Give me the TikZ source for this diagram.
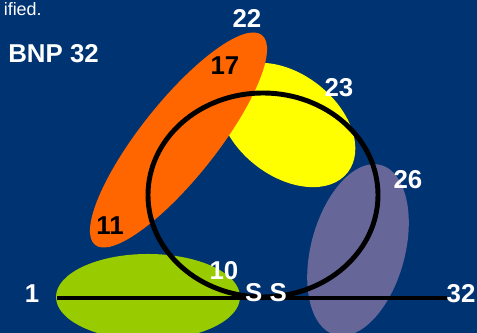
\documentclass[tikz,border=0pt]{standalone}
\usepackage{fontspec}
\setmainfont{Liberation Sans}
\definecolor{bgblue}{RGB}{0,51,114}
\definecolor{setorange}{RGB}{255,102,0}
\definecolor{setyellow}{RGB}{255,255,0}
\definecolor{setgreen}{RGB}{153,204,0}
\definecolor{setpurple}{RGB}{102,102,153}
\tikzset{
  num/.style={font=\fontsize{14.7}{17}\selectfont\bfseries, text=white, inner sep=0pt, anchor=base},
  darknum/.style={num, text=black},
  strand/.style={line width=2.8pt, black}
}
\begin{document}
\begin{tikzpicture}[x=0.02cm, y=0.02cm]
    % 1. Background and clipping window
    \useasboundingbox (0,0) rectangle (477,333);
    \clip (0,0) rectangle (477,333);
    \fill[bgblue] (0,0) rectangle (477,333);

    % 2. Coloured regions (ellipses)
    \fill[setyellow, rotate around={-38:(287,208)}] (287,208) ellipse [x radius=77, y radius=51];
    \fill[setorange, rotate around={51.5:(178.5,193)}] (178.5,193) ellipse [x radius=134, y radius=38];
    \fill[setgreen] (148,36) ellipse [x radius=92, y radius=43];
    \fill[setpurple, rotate around={75:(358,83)}] (358,83) ellipse [x radius=88, y radius=47];

    % 3. Chain and loop
    \draw[strand] (263,138) ellipse [x radius=115, y radius=102];
    \coordinate (start) at (57,35);
    \coordinate (end) at (447,35);
    \draw[strand] (start) -- (end);

    % 4. Labels
    \node[inner sep=0pt, anchor=base east, text=white, font=\fontsize{10.2}{12}\selectfont] (note) at (42,317) {ified.};
    \node[num, anchor=base west] (title) at (8,270) {BNP 32};
    \node[num] (n22) at (247,305) {22};
    \node[darknum] (n17) at (225,258) {17};
    \node[num] (n23) at (339,236) {23};
    \node[num] (n26) at (408,144) {26};
    \node[darknum] (n11) at (110,98) {11};
    \node[num] (n10) at (224,53) {10};
    \node[num] (n1) at (32,30) {1};
    \node[num] (ss) at (266,31) {S S};
    \node[num] (n32) at (461,30) {32};
\end{tikzpicture}
\end{document}
